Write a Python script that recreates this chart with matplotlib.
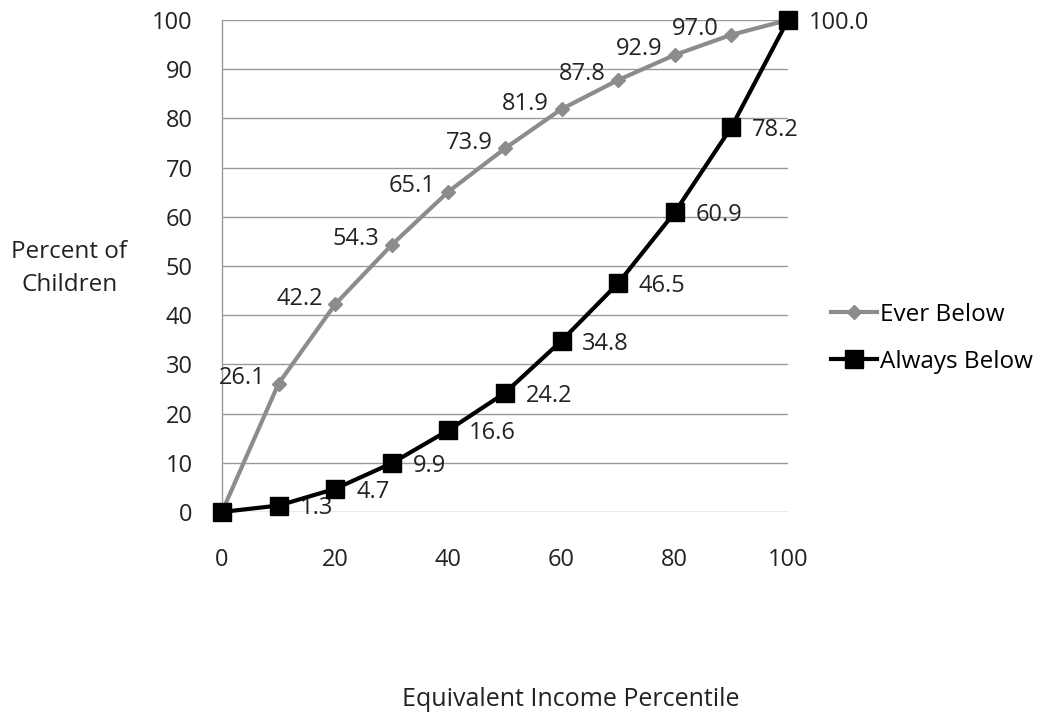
import matplotlib.pyplot as plt

# percentile thresholds and share of children below them
percentiles = [0, 10, 20, 30, 40, 50, 60, 70, 80, 90, 100]
ever_below = [0, 26.1, 42.2, 54.3, 65.1, 73.9, 81.9, 87.8, 92.9, 97.0, 100.0]
always_below = [0, 1.3, 4.7, 9.9, 16.6, 24.2, 34.8, 46.5, 60.9, 78.2, 100.0]

plt.rcParams["font.family"] = ["Open Sans", "DejaVu Sans"]
fs = 17

fig = plt.figure(figsize=(10.52, 7.15), dpi=100)
ax = fig.add_axes([0.211, 0.284, 0.538, 0.688])

ax.plot(percentiles, ever_below, color="#8c8c8c", linewidth=3, marker="D",
        markersize=7.5, label="Ever Below", zorder=3, clip_on=False)
ax.plot(percentiles, always_below, color="black", linewidth=3, marker="s",
        markersize=13, label="Always Below", zorder=4, clip_on=False)

# value labels: left of the grey points, right of the black ones
for x, y in zip(percentiles[1:-1], ever_below[1:-1]):
    ax.annotate(f"{y:.1f}", (x, y), xytext=(-9, 4), textcoords="offset points",
                ha="right", va="center", fontsize=fs, color="#222222")
for x, y in zip(percentiles[1:], always_below[1:]):
    ax.annotate(f"{y:.1f}", (x, y), xytext=(15, -2), textcoords="offset points",
                ha="left", va="center", fontsize=fs, color="#222222")

ax.set_xlim(0, 100)
ax.set_ylim(0, 100)
ax.set_xticks(range(0, 101, 20))
ax.set_yticks(range(0, 101, 10))
ax.tick_params(length=0, labelsize=fs, labelcolor="#222222")
ax.tick_params(axis="x", pad=26)
ax.tick_params(axis="y", pad=21)
ax.yaxis.grid(True, color="#9a9a9a", linewidth=1)
ax.set_axisbelow(True)
for side in ["top", "right", "bottom"]:
    ax.spines[side].set_visible(False)
ax.spines["left"].set_color("#9a9a9a")
ax.spines["left"].set_linewidth(1)

fig.text(0.066, 0.6245, "Percent of\nChildren", ha="center", va="center",
         fontsize=17.5, color="#222222", linespacing=1.45)
fig.text(0.543, 0.021, "Equivalent Income Percentile", ha="center", va="center",
         fontsize=18, color="#222222")

fig.legend(loc="center left", bbox_to_anchor=(0.79, 0.527), frameon=False,
           fontsize=17.5, handlelength=1.9, handletextpad=0.1,
           labelspacing=0.95, borderpad=0, borderaxespad=0)

fig.savefig("out.png", dpi=100)
